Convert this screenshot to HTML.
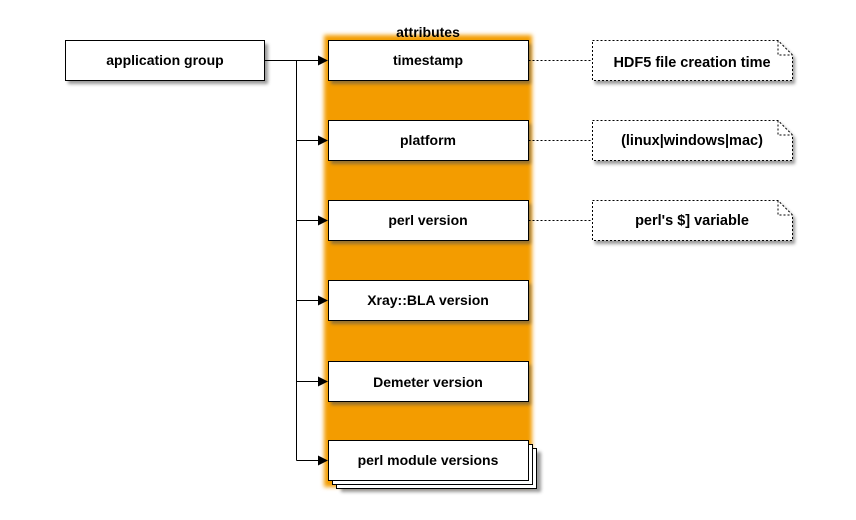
<!DOCTYPE html>
<html><head><meta charset="utf-8"><style>
html,body{margin:0;padding:0;background:#fff;width:856px;height:520px;overflow:hidden}
text{font-family:"Liberation Sans",sans-serif;font-weight:bold;font-size:14px;text-anchor:middle}
.n{font-family:"Liberation Sans",sans-serif;font-size:14.5px}
</style></head><body>
<svg width="856" height="520" viewBox="0 0 856 520" xmlns="http://www.w3.org/2000/svg">
<defs>
<filter id="bl" x="-20%" y="-5%" width="140%" height="110%"><feGaussianBlur stdDeviation="2"/></filter>
<filter id="sh" x="-10%" y="-10%" width="130%" height="150%"><feGaussianBlur stdDeviation="1.5"/></filter>
<marker id="a" markerWidth="10" markerHeight="10" refX="9" refY="5" orient="auto" markerUnits="userSpaceOnUse"><path d="M0,0 L10,5 L0,10 z" fill="#000"/></marker>
</defs>
<rect x="324" y="35" width="208" height="452" fill="#f39c00" filter="url(#bl)"/>
<text x="428" y="37">attributes</text>
<g fill="#555" opacity="0.6" filter="url(#sh)">
<rect x="68" y="44" width="200" height="40"/>
<rect x="331" y="44" width="200" height="40"/>
<rect x="331" y="124" width="200" height="40"/>
<rect x="331" y="204" width="200" height="40"/>
<rect x="331" y="284" width="200" height="40"/>
<rect x="331" y="365" width="200" height="40"/>
<rect x="341" y="452" width="200" height="40"/>
<path d="M595,44 H781 L795,58 V84 H595 Z"/>
<path d="M595,124 H781 L795,138 V164 H595 Z"/>
<path d="M595,204 H781 L795,218 V244 H595 Z"/>
</g>
<g fill="#fff" stroke="#000" stroke-width="1">
<rect x="65.5" y="40.5" width="199" height="40"/>
<rect x="328.5" y="40.5" width="200" height="40"/>
<rect x="328.5" y="120.5" width="200" height="40"/>
<rect x="328.5" y="200.5" width="200" height="40"/>
<rect x="328.5" y="280.5" width="200" height="40"/>
<rect x="328.5" y="361.5" width="200" height="40"/>
<rect x="336.5" y="448.5" width="200" height="40"/>
<rect x="332.5" y="444.5" width="200" height="40"/>
<rect x="328.5" y="440.5" width="200" height="40"/>
</g>
<g fill="#fff" stroke="#000" stroke-dasharray="2,2">
<path d="M592.5,40.5 H778 L792.5,55 V80.5 H592.5 Z"/>
<path d="M778,40.5 V55 H792.5" fill="none"/>
<path d="M592.5,120.5 H778 L792.5,135 V160.5 H592.5 Z"/>
<path d="M778,120.5 V135 H792.5" fill="none"/>
<path d="M592.5,200.5 H778 L792.5,215 V240.5 H592.5 Z"/>
<path d="M778,200.5 V215 H792.5" fill="none"/>
<path d="M528.5,60.5 H592 M528.5,140.5 H592 M528.5,220.5 H592" fill="none"/>
</g>
<g stroke="#000" stroke-width="1" fill="none">
<path d="M264.5,60.5 H296.5 M296.5,60.5 V460.5"/>
<path d="M296.5,60.5 H327" marker-end="url(#a)"/>
<path d="M296.5,140.5 H327" marker-end="url(#a)"/>
<path d="M296.5,220.5 H327" marker-end="url(#a)"/>
<path d="M296.5,300.5 H327" marker-end="url(#a)"/>
<path d="M296.5,381.5 H327" marker-end="url(#a)"/>
<path d="M296.5,460.5 H327" marker-end="url(#a)"/>
</g>
<text x="165" y="65">application group</text>
<text x="428" y="65">timestamp</text>
<text x="428" y="145">platform</text>
<text x="428" y="225">perl version</text>
<text x="428" y="305">Xray::BLA version</text>
<text x="428" y="387">Demeter version</text>
<text x="428" y="465">perl module versions</text>
<text class="n" x="692" y="67">HDF5 file creation time</text>
<text class="n" x="692" y="145">(linux|windows|mac)</text>
<text class="n" x="692" y="225">perl's $] variable</text>
</svg>
</body></html>
